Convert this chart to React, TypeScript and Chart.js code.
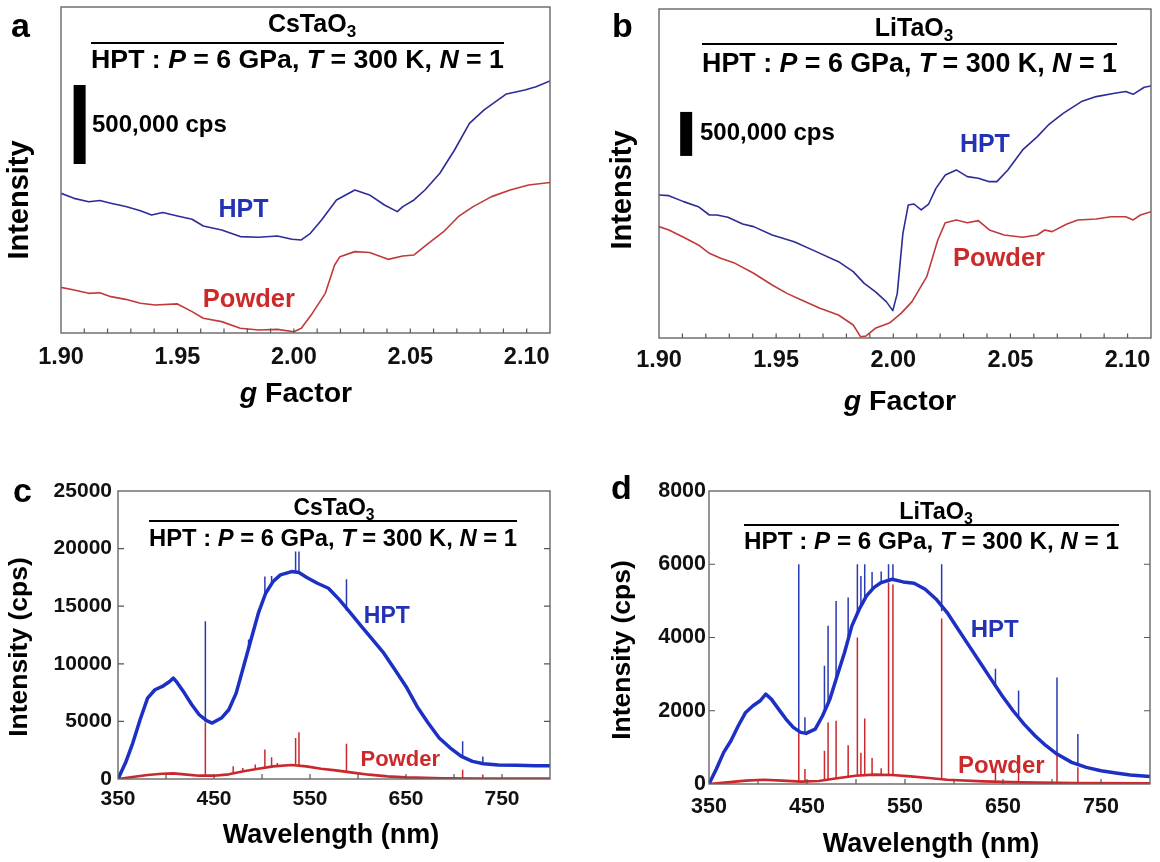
import React, { useEffect, useRef } from 'react';
import { Chart, registerables } from 'chart.js';

Chart.register(...registerables);

const FONT = '"Liberation Sans", Arial, Helvetica, sans-serif';

// ---------------- Panel a : CsTaO3 ESR (intensity in kcps) ----------------
const aG_HPT = [1.9, 1.9056, 1.9119, 1.9167, 1.9214, 1.9278, 1.9341, 1.9389, 1.9437, 1.95, 1.9563, 1.9611, 1.969, 1.977, 1.9849, 1.9929, 1.9992, 2.0032, 2.0071, 2.0119, 2.0183, 2.0262, 2.0325, 2.0389, 2.0444, 2.0468, 2.0516, 2.0563, 2.0627, 2.069, 2.0754, 2.0817, 2.0913, 2.0992, 2.104, 2.11];
const aI_HPT = [884, 852, 831, 838, 821, 800, 774, 747, 762, 741, 720, 677, 652, 610, 606, 614, 593, 589, 631, 715, 842, 905, 874, 810, 768, 800, 842, 905, 1011, 1158, 1327, 1412, 1513, 1538, 1559, 1595];
const aG_Powder = [1.9, 1.9056, 1.9119, 1.9167, 1.9214, 1.9278, 1.9341, 1.9405, 1.95, 1.9563, 1.9611, 1.969, 1.977, 1.9849, 1.9929, 2.0, 2.0032, 2.0079, 2.0135, 2.0175, 2.0198, 2.0262, 2.0325, 2.0405, 2.0468, 2.0516, 2.0579, 2.0643, 2.0706, 2.077, 2.0849, 2.0929, 2.1008, 2.11];
const aI_Powder = [289, 272, 251, 255, 230, 213, 188, 177, 184, 135, 93, 72, 30, 19, 23, 8, 30, 124, 251, 430, 483, 515, 509, 466, 487, 494, 568, 641, 736, 800, 863, 905, 937, 952];
const aBarG = [1.908, 1.908];
const aBarI = [1070, 1570];

// ---------------- Panel b : LiTaO3 ESR (intensity in kcps) ----------------
const bG_HPT = [1.9, 1.9042, 1.9105, 1.9168, 1.9215, 1.9247, 1.9294, 1.9357, 1.9404, 1.9483, 1.9577, 1.9671, 1.9766, 1.9829, 1.9876, 1.9923, 1.997, 1.9998, 2.0017, 2.0041, 2.0064, 2.0088, 2.0119, 2.0151, 2.0182, 2.0222, 2.0269, 2.0316, 2.0363, 2.041, 2.0442, 2.0489, 2.0552, 2.0615, 2.0662, 2.0725, 2.0803, 2.0866, 2.0945, 2.0992, 2.1024, 2.1071, 2.11];
const bI_HPT = [1625, 1617, 1549, 1492, 1397, 1397, 1371, 1295, 1265, 1170, 1094, 981, 867, 754, 621, 526, 413, 311, 507, 1189, 1511, 1522, 1454, 1522, 1700, 1852, 1909, 1833, 1814, 1776, 1776, 1909, 2136, 2287, 2420, 2552, 2685, 2742, 2780, 2799, 2768, 2848, 2863];
const bG_Powder = [1.9, 1.9042, 1.9105, 1.9168, 1.9215, 1.9263, 1.9325, 1.9404, 1.9483, 1.9546, 1.9608, 1.9687, 1.9766, 1.9829, 1.986, 1.9884, 1.9923, 1.9986, 2.0033, 2.008, 2.0143, 2.019, 2.0222, 2.0269, 2.0316, 2.0363, 2.041, 2.0473, 2.0552, 2.0615, 2.0646, 2.0678, 2.0741, 2.0788, 2.0866, 2.0929, 2.0992, 2.1024, 2.1055, 2.11];
const bI_Powder = [1265, 1227, 1144, 1057, 962, 905, 848, 735, 602, 507, 432, 337, 261, 148, 15, 23, 110, 174, 280, 413, 697, 1113, 1310, 1341, 1310, 1333, 1227, 1170, 1144, 1170, 1227, 1208, 1295, 1341, 1352, 1378, 1378, 1341, 1397, 1435];
const bBarG = [1.9116, 1.9116];
const bBarI = [2068, 2568];

// ---------------- Panel c : CsTaO3 PL (cps) ----------------
const cNm_HPT = [350, 357.7, 365.4, 373, 380.8, 388.5, 396.2, 403.8, 407.7, 411.5, 419.2, 426.9, 434.6, 442.3, 448.1, 457.7, 465.4, 473.1, 480.8, 488.5, 496.2, 503.8, 511.5, 519.2, 530.8, 538.5, 546.2, 557.7, 569.2, 580.8, 592.3, 603.8, 615.4, 626.9, 638.5, 650, 661.5, 673.1, 684.6, 696.2, 707.7, 719.2, 730.8, 746.2, 765.4, 784.6, 800];
const cI_HPT = [0, 1387, 3121, 5144, 7023, 7745, 8034, 8468, 8757, 8381, 7456, 6445, 5578, 5058, 4855, 5289, 6011, 7456, 9768, 12080, 14392, 16126, 17138, 17716, 18005, 17918, 17513, 16993, 16560, 15548, 14392, 13236, 12080, 10924, 9479, 8034, 6300, 4855, 3555, 2688, 1965, 1532, 1329, 1214, 1185, 1156, 1156];
const cNm_Powder = [350, 365, 380.8, 396, 407.7, 419, 434.6, 450, 465.4, 480.8, 496.2, 511.5, 530.8, 546.2, 561.5, 576.9, 592.3, 611.5, 630.8, 650, 688.5, 726.9, 800];
const cI_Powder = [0, 173, 347, 462, 491, 405, 289, 289, 405, 665, 896, 1098, 1214, 1098, 896, 751, 578, 376, 231, 145, 58, 29, 29];
const cSpikeNm_HPT = [441, 486, 503, 510, 535, 538.5, 588, 709, 730];
const cSpikeBase_HPT = [4950, 11300, 16100, 17000, 18000, 17950, 14600, 1950, 1350];
const cSpikeTop_HPT = [13700, 12100, 17570, 17630, 19740, 19740, 17340, 3270, 1950];
const cSpikeNm_Powder = [441, 470, 480, 493, 503, 510, 516, 535, 538.5, 588, 709, 730];
const cSpikeBase_Powder = [290, 530, 650, 850, 1000, 1080, 1130, 1200, 1180, 620, 30, 29];
const cSpikeTop_Powder = [4900, 1100, 950, 1250, 2550, 1880, 1390, 3550, 4050, 3070, 810, 380];

// ---------------- Panel d : LiTaO3 PL (cps) ----------------
const dNm_HPT = [350, 357.5, 365, 372.4, 379.9, 387.4, 394.9, 402.3, 407.9, 413.6, 421, 428.5, 436, 443.5, 449, 458.4, 465.9, 473.4, 480.8, 488.3, 495.8, 503.3, 510.7, 518.2, 525.7, 536.9, 548.1, 559.3, 570.6, 581.8, 593, 604.2, 615.4, 626.6, 637.8, 649.1, 660.3, 671.5, 682.7, 693.9, 705.1, 720.1, 735, 750, 765, 779.9, 800];
const dI_HPT = [0, 409, 864, 1182, 1591, 1954, 2136, 2273, 2454, 2318, 2045, 1773, 1545, 1409, 1382, 1500, 1864, 2318, 2954, 3591, 4318, 4772, 5136, 5363, 5500, 5590, 5518, 5482, 5318, 5045, 4681, 4227, 3772, 3318, 2863, 2409, 2000, 1636, 1318, 1045, 818, 591, 454, 364, 300, 245, 205];
const dNm_Powder = [350, 368.7, 387.4, 406, 424.8, 443.5, 462, 480.8, 499.5, 518.2, 536.9, 555.6, 574.3, 593, 630.4, 667.8, 723.8, 800];
const dI_Powder = [0, 45, 91, 118, 91, 64, 82, 155, 227, 255, 245, 209, 164, 118, 73, 45, 27, 18];
const dSpikeNm_HPT = [441.6, 447.9, 467.8, 471.5, 479.7, 492, 501.4, 505, 508.9, 516.4, 525.7, 533.2, 537.7, 587.4, 642.3, 665.9, 705.1, 726.4];
const dSpikeBase_HPT = [1409, 1385, 1980, 2200, 2850, 3950, 4650, 4850, 5050, 5310, 5500, 5570, 5590, 4720, 2700, 1800, 818, 530];
const dSpikeTop_HPT = [6000, 1820, 3230, 4320, 5000, 5090, 6000, 5680, 6000, 5790, 5800, 6000, 6000, 6000, 3150, 2550, 2910, 1364];
const dSpikeNm_Powder = [441.6, 447.9, 467.8, 471.5, 479.7, 492, 501.4, 505, 508.9, 516.4, 525.7, 533.2, 537.7, 587.4, 642.3, 665.9, 705.1, 726.4];
const dSpikeBase_Powder = [64, 64, 100, 110, 150, 200, 227, 235, 240, 255, 252, 247, 245, 120, 80, 50, 40, 27];
const dSpikeTop_Powder = [1400, 410, 910, 1680, 1730, 1060, 4000, 850, 1790, 710, 430, 5500, 5450, 4520, 360, 320, 818, 454];

// ---------------- styling ----------------
const BLUE_AB = '#2c2c98';
const RED_AB = '#c03a3c';
const BLUE_CD = '#1d30c4';
const SPIKE_BLUE = '#2a3ab2';
const RED_CD = '#c9282d';
const LABEL_BLUE = '#2433b6';
const LABEL_RED = '#cc2a2a';

type Seg = { t: string; it?: boolean; sub?: boolean };

const PARAMS: Seg[] = [
  { t: 'HPT : ' }, { t: 'P', it: true }, { t: ' = 6 GPa, ' }, { t: 'T', it: true },
  { t: ' = 300 K, ' }, { t: 'N', it: true }, { t: ' = 1' },
];

function fontFor(s: Seg, size: number) {
  const sz = s.sub ? size * 0.68 : size;
  return `${s.it ? 'italic ' : ''}bold ${sz}px ${FONT}`;
}
function measureSegs(ctx: CanvasRenderingContext2D, segs: Seg[], size: number) {
  let total = 0;
  const widths = segs.map((s) => {
    ctx.font = fontFor(s, size);
    const w = ctx.measureText(s.t).width;
    total += w;
    return w;
  });
  return { total, widths };
}
function drawSegs(ctx: CanvasRenderingContext2D, segs: Seg[], x: number, y: number, size: number, align: 'left' | 'center', color: string) {
  const { total, widths } = measureSegs(ctx, segs, size);
  let cx = align === 'center' ? x - total / 2 : x;
  ctx.textAlign = 'left';
  ctx.textBaseline = 'alphabetic';
  ctx.fillStyle = color;
  segs.forEach((s, i) => {
    ctx.font = fontFor(s, size);
    ctx.fillText(s.t, cx, y + (s.sub ? size * 0.2 : 0));
    cx += widths[i];
  });
}

interface PanelCfg {
  left: number; top: number; w: number; h: number;
  pad: { right: number; top: number };
  yWidth: number; xHeight: number;
  xMin: number; xMax: number; xStep: number; xLabel: (v: number) => string;
  yMin: number; yMax: number; yStep?: number; showY: boolean;
  tickFont: number; xPad: number; yPad: number;
  letter: string; letterX: number; letterY: number;
  formula: string; titleX: number; titleY: number; titleSize: number;
  lineX1: number; lineX2: number; lineY: number; paramsY: number; paramsSize: number;
  yTitle: string; yTitleX: number; yTitleY: number; yTitleSize: number;
  xTitle: Seg[]; xTitleX: number; xTitleY: number; xTitleSize: number;
  labels: { text: string; x: number; y: number; color: string; size: number }[];
  barText?: { x: number; y: number; size: number };
  xTickLen: number; yTickLen: number;
  datasets: any[];
}

function pts(xs: number[], ys: number[]) {
  return xs.map((x, i) => ({ x, y: ys[i] }));
}
function lineDs(xs: number[], ys: number[], color: string, width: number) {
  return { data: pts(xs, ys), borderColor: color, borderWidth: width, pointRadius: 0, tension: 0, fill: false, borderJoinStyle: 'round' };
}
function spikeDs(xs: number[], base: number[], top: number[], color: string, width: number) {
  const data: any[] = [];
  xs.forEach((x, i) => {
    data.push({ x, y: base[i] }, { x, y: top[i] }, { x, y: null });
  });
  return { data, borderColor: color, borderWidth: width, pointRadius: 0, tension: 0, fill: false, spanGaps: false, borderCapStyle: 'butt' };
}
function barDs(xs: number[], ys: number[]) {
  return { data: pts(xs, ys), borderColor: '#000', borderWidth: 12, pointRadius: 0, fill: false, borderCapStyle: 'butt' };
}

function makeDeco(cfg: PanelCfg) {
  return {
    id: 'deco',
    afterDraw(chart: any) {
      const ctx: CanvasRenderingContext2D = chart.ctx;
      const { left, right, top, bottom } = chart.chartArea;
      const xs = chart.scales.x;
      const ys = chart.scales.y;
      ctx.save();
      // inward ticks
      ctx.strokeStyle = '#555';
      ctx.lineWidth = 1.2;
      ctx.beginPath();
      xs.ticks.forEach((t: any) => {
        const px = xs.getPixelForValue(t.value);
        if (px <= left + 1 || px >= right - 1) return;
        ctx.moveTo(px, bottom);
        ctx.lineTo(px, bottom - cfg.xTickLen);
      });
      if (cfg.showY) {
        ys.ticks.forEach((t: any) => {
          const py = ys.getPixelForValue(t.value);
          if (py >= bottom - 1 || py <= top + 1) return;
          ctx.moveTo(left, py);
          ctx.lineTo(left + cfg.yTickLen, py);
          ctx.moveTo(right, py);
          ctx.lineTo(right - cfg.yTickLen, py);
        });
      }
      ctx.stroke();
      // frame
      ctx.strokeStyle = '#666';
      ctx.lineWidth = 1.4;
      ctx.strokeRect(left, top, right - left, bottom - top);

      // panel letter
      ctx.fillStyle = '#000';
      ctx.font = `bold 34px ${FONT}`;
      ctx.textAlign = 'left';
      ctx.textBaseline = 'alphabetic';
      ctx.fillText(cfg.letter, cfg.letterX, cfg.letterY);

      // header
      drawSegs(ctx, [{ t: cfg.formula }, { t: '3', sub: true }], cfg.titleX, cfg.titleY, cfg.titleSize, 'center', '#000');
      ctx.strokeStyle = '#000';
      ctx.lineWidth = 2;
      ctx.beginPath();
      ctx.moveTo(cfg.lineX1, cfg.lineY);
      ctx.lineTo(cfg.lineX2, cfg.lineY);
      ctx.stroke();
      const m = measureSegs(ctx, PARAMS, cfg.paramsSize);
      const fit = cfg.paramsSize * (cfg.lineX2 - cfg.lineX1) / m.total;
      drawSegs(ctx, PARAMS, (cfg.lineX1 + cfg.lineX2) / 2, cfg.paramsY, fit, 'center', '#000');

      // axis titles
      ctx.save();
      ctx.translate(cfg.yTitleX, cfg.yTitleY);
      ctx.rotate(-Math.PI / 2);
      ctx.font = `bold ${cfg.yTitleSize}px ${FONT}`;
      ctx.textAlign = 'center';
      ctx.textBaseline = 'middle';
      ctx.fillStyle = '#000';
      ctx.fillText(cfg.yTitle, 0, 0);
      ctx.restore();
      drawSegs(ctx, cfg.xTitle, cfg.xTitleX, cfg.xTitleY, cfg.xTitleSize, 'center', '#000');

      // series labels (anchored in data coordinates)
      cfg.labels.forEach((l) => {
        ctx.font = `bold ${l.size}px ${FONT}`;
        ctx.fillStyle = l.color;
        ctx.textAlign = 'center';
        ctx.textBaseline = 'middle';
        ctx.fillText(l.text, xs.getPixelForValue(l.x), ys.getPixelForValue(l.y));
      });

      // scale-bar label
      if (cfg.barText) {
        ctx.font = `bold ${cfg.barText.size}px ${FONT}`;
        ctx.fillStyle = '#000';
        ctx.textAlign = 'left';
        ctx.textBaseline = 'middle';
        ctx.fillText('500,000 cps', cfg.barText.x, cfg.barText.y);
      }
      ctx.restore();
    },
  };
}

function makeConfig(cfg: PanelCfg): any {
  const tickFont = { family: FONT, size: cfg.tickFont, weight: 'bold' as const };
  return {
    type: 'line',
    data: { datasets: cfg.datasets },
    plugins: [makeDeco(cfg)],
    options: {
      animation: false,
      responsive: false,
      maintainAspectRatio: false,
      layout: { padding: { left: 0, right: cfg.pad.right, top: cfg.pad.top, bottom: 0 } },
      plugins: { legend: { display: false }, tooltip: { enabled: false } },
      scales: {
        x: {
          type: 'linear',
          min: cfg.xMin,
          max: cfg.xMax,
          border: { display: false },
          grid: { display: false, drawTicks: false },
          ticks: {
            stepSize: cfg.xStep,
            autoSkip: false,
            maxRotation: 0,
            minRotation: 0,
            padding: cfg.xPad,
            color: '#111',
            font: tickFont,
            callback: (v: any) => cfg.xLabel(Number(v)),
          },
          afterFit: (s: any) => { s.height = cfg.xHeight; },
        },
        y: {
          type: 'linear',
          min: cfg.yMin,
          max: cfg.yMax,
          border: { display: false },
          grid: { display: false, drawTicks: false },
          ticks: {
            display: cfg.showY,
            stepSize: cfg.yStep,
            padding: cfg.yPad,
            color: '#111',
            font: tickFont,
            callback: (v: any) => String(v),
          },
          afterFit: (s: any) => { s.width = cfg.yWidth; },
        },
      },
    },
  };
}

const isMult = (v: number, step: number) => Math.abs(v / step - Math.round(v / step)) < 1e-6;
const gLabel = (v: number) => (isMult(v, 0.05) && v < 2.105 ? v.toFixed(2) : '');
const nmLabel = (v: number) => (isMult(v - 350, 100) && v < 790 ? String(Math.round(v)) : '');
const G_TITLE: Seg[] = [{ t: 'g', it: true }, { t: ' Factor' }];
const WL_TITLE: Seg[] = [{ t: 'Wavelength (nm)' }];

const PANEL_A: PanelCfg = {
  left: 0, top: 0, w: 580, h: 440,
  pad: { right: 30, top: 7 }, yWidth: 61, xHeight: 107,
  xMin: 1.9, xMax: 2.11, xStep: 0.01, xLabel: gLabel,
  yMin: 0, yMax: 2063, showY: false,
  tickFont: 23.5, xPad: 10, yPad: 0,
  letter: 'a', letterX: 11, letterY: 37,
  formula: 'CsTaO', titleX: 312, titleY: 32, titleSize: 25,
  lineX1: 91, lineX2: 504, lineY: 43, paramsY: 68, paramsSize: 26,
  yTitle: 'Intensity', yTitleX: 20, yTitleY: 200, yTitleSize: 29,
  xTitle: G_TITLE, xTitleX: 296, xTitleY: 402, xTitleSize: 28.5,
  labels: [
    { text: 'HPT', x: 1.9784, y: 778, color: LABEL_BLUE, size: 25 },
    { text: 'Powder', x: 1.9807, y: 209, color: LABEL_RED, size: 25.5 },
  ],
  barText: { x: 92, y: 125, size: 24 },
  xTickLen: 4.5, yTickLen: 0,
  datasets: [
    barDs(aBarG, aBarI),
    lineDs(aG_HPT, aI_HPT, BLUE_AB, 1.6),
    lineDs(aG_Powder, aI_Powder, RED_AB, 1.6),
  ],
};

const PANEL_B: PanelCfg = {
  left: 580, top: 0, w: 580, h: 440,
  pad: { right: 9, top: 9 }, yWidth: 79, xHeight: 102,
  xMin: 1.9, xMax: 2.11, xStep: 0.01, xLabel: gLabel,
  yMin: 0, yMax: 3737, showY: false,
  tickFont: 23.5, xPad: 8, yPad: 0,
  letter: 'b', letterX: 32, letterY: 37,
  formula: 'LiTaO', titleX: 334, titleY: 36, titleSize: 25,
  lineX1: 122, lineX2: 537, lineY: 44, paramsY: 72, paramsSize: 26,
  yTitle: 'Intensity', yTitleX: 43, yTitleY: 190, yTitleSize: 29,
  xTitle: G_TITLE, xTitleX: 320, xTitleY: 410, xTitleSize: 28.5,
  labels: [
    { text: 'HPT', x: 2.0391, y: 2192, color: LABEL_BLUE, size: 25 },
    { text: 'Powder', x: 2.0451, y: 897, color: LABEL_RED, size: 25.5 },
  ],
  barText: { x: 120, y: 133, size: 24 },
  xTickLen: 4.5, yTickLen: 0,
  datasets: [
    barDs(bBarG, bBarI),
    lineDs(bG_HPT, bI_HPT, BLUE_AB, 1.6),
    lineDs(bG_Powder, bI_Powder, RED_AB, 1.6),
  ],
};

const PANEL_C: PanelCfg = {
  left: 0, top: 440, w: 580, h: 422,
  pad: { right: 30, top: 51 }, yWidth: 118, xHeight: 83,
  xMin: 350, xMax: 800, xStep: 50, xLabel: nmLabel,
  yMin: 0, yMax: 25000, yStep: 5000, showY: true,
  tickFont: 21, xPad: 8, yPad: 6,
  letter: 'c', letterX: 13, letterY: 62,
  formula: 'CsTaO', titleX: 334, titleY: 75, titleSize: 23,
  lineX1: 149, lineX2: 517, lineY: 81, paramsY: 106, paramsSize: 23.5,
  yTitle: 'Intensity (cps)', yTitleX: 20, yTitleY: 207, yTitleSize: 26.5,
  xTitle: WL_TITLE, xTitleX: 331, xTitleY: 403, xTitleSize: 27,
  labels: [
    { text: 'HPT', x: 630, y: 14062, color: LABEL_BLUE, size: 23 },
    { text: 'Powder', x: 644, y: 1650, color: LABEL_RED, size: 22 },
  ],
  xTickLen: 5, yTickLen: 6,
  datasets: [
    lineDs(cNm_HPT, cI_HPT, BLUE_CD, 3.5),
    spikeDs(cSpikeNm_HPT, cSpikeBase_HPT, cSpikeTop_HPT, SPIKE_BLUE, 1.5),
    spikeDs(cSpikeNm_Powder, cSpikeBase_Powder, cSpikeTop_Powder, RED_CD, 1.5),
    lineDs(cNm_Powder, cI_Powder, RED_CD, 2.6),
  ],
};

const PANEL_D: PanelCfg = {
  left: 580, top: 440, w: 580, h: 422,
  pad: { right: 9, top: 51 }, yWidth: 129, xHeight: 78,
  xMin: 350, xMax: 800, xStep: 50, xLabel: nmLabel,
  yMin: 0, yMax: 8000, yStep: 2000, showY: true,
  tickFont: 21.5, xPad: 10, yPad: 3,
  letter: 'd', letterX: 31, letterY: 59,
  formula: 'LiTaO', titleX: 356, titleY: 79, titleSize: 23.5,
  lineX1: 164, lineX2: 539, lineY: 85, paramsY: 109, paramsSize: 24,
  yTitle: 'Intensity (cps)', yTitleX: 43, yTitleY: 210, yTitleSize: 26.5,
  xTitle: WL_TITLE, xTitleX: 351, xTitleY: 412, xTitleSize: 27,
  labels: [
    { text: 'HPT', x: 641.6, y: 4205, color: LABEL_BLUE, size: 24 },
    { text: 'Powder', x: 648.3, y: 472, color: LABEL_RED, size: 24 },
  ],
  xTickLen: 5, yTickLen: 6,
  datasets: [
    lineDs(dNm_HPT, dI_HPT, BLUE_CD, 3.5),
    spikeDs(dSpikeNm_HPT, dSpikeBase_HPT, dSpikeTop_HPT, SPIKE_BLUE, 1.5),
    spikeDs(dSpikeNm_Powder, dSpikeBase_Powder, dSpikeTop_Powder, RED_CD, 1.5),
    lineDs(dNm_Powder, dI_Powder, RED_CD, 2.6),
  ],
};

function Panel({ cfg }: { cfg: PanelCfg }) {
  const ref = useRef<HTMLCanvasElement>(null);
  useEffect(() => {
    if (!ref.current) return;
    const chart = new Chart(ref.current, makeConfig(cfg));
    return () => chart.destroy();
  }, [cfg]);
  return (
    <canvas
      ref={ref}
      width={cfg.w}
      height={cfg.h}
      style={{ position: 'absolute', left: cfg.left, top: cfg.top, width: cfg.w, height: cfg.h }}
    />
  );
}

export default function App() {
  return (
    <div style={{ position: 'absolute', left: 0, top: 0, width: 1160, height: 862, background: '#fff', overflow: 'hidden' }}>
      <Panel cfg={PANEL_A} />
      <Panel cfg={PANEL_B} />
      <Panel cfg={PANEL_C} />
      <Panel cfg={PANEL_D} />
    </div>
  );
}
